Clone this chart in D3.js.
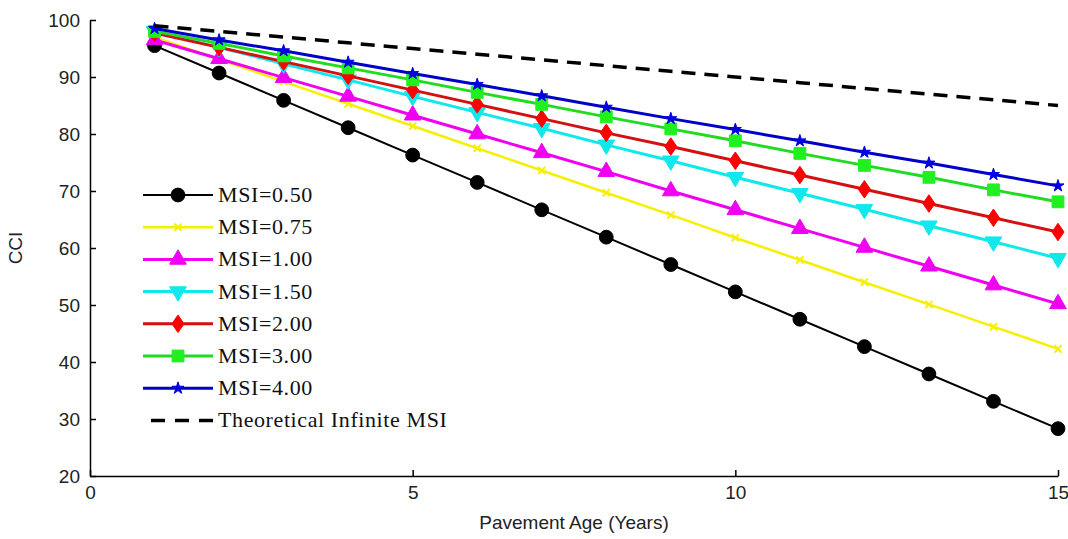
<!DOCTYPE html>
<html>
<head>
<meta charset="utf-8">
<script src="https://cdn.jsdelivr.net/npm/d3@7"></script>
<style>
    body { margin: 0; background: #fff; }
    svg { display: block; }
</style>
</head>
<body>
<div id="chart"></div>
<script>
const years = [1, 2, 3, 4, 5, 6, 7, 8, 9, 10, 11, 12, 13, 14, 15];

const msi050 = [95.5, 90.7, 85.9, 81.1, 76.3, 71.5, 66.7, 61.9, 57.1, 52.3, 47.5, 42.7, 37.9, 33.1, 28.3];
const msi075 = [97.0, 93.1, 89.2, 85.3, 81.4, 77.5, 73.6, 69.7, 65.8, 61.8, 57.9, 54.0, 50.1, 46.2, 42.3];
const msi100 = [96.5, 93.2, 89.9, 86.6, 83.3, 80.0, 76.7, 73.4, 70.0, 66.7, 63.4, 60.1, 56.8, 53.5, 50.2];
const msi150 = [98.0, 95.2, 92.3, 89.5, 86.6, 83.8, 81.0, 78.1, 75.3, 72.4, 69.6, 66.8, 63.9, 61.1, 58.2];
const msi200 = [97.7, 95.2, 92.7, 90.2, 87.7, 85.2, 82.7, 80.2, 77.8, 75.3, 72.8, 70.3, 67.8, 65.3, 62.8];
const msi300 = [98.0, 95.9, 93.7, 91.6, 89.5, 87.3, 85.2, 83.0, 80.9, 78.8, 76.6, 74.5, 72.4, 70.2, 68.1];
const msi400 = [98.5, 96.5, 94.6, 92.6, 90.6, 88.7, 86.7, 84.7, 82.7, 80.8, 78.8, 76.8, 74.9, 72.9, 70.9];
const msiInf = [99, 98, 97, 96, 95, 94, 93, 92, 91, 90, 89, 88, 87, 86, 85];

const seriesNames = ["MSI=0.50", "MSI=0.75", "MSI=1.00", "MSI=1.50", "MSI=2.00", "MSI=3.00", "MSI=4.00", "Theoretical Infinite MSI"];
const xTicks = [0, 5, 10, 15];
const yTicks = [20, 30, 40, 50, 60, 70, 80, 90, 100];

// how each series looks
const styles = [
    { line: "#000", fill: "#000", marker: "circle", size: 150, width: 2 },
    { line: "#f5f000", fill: "#f5f000", marker: "x", size: 35, width: 2.5 },
    { line: "#f000f0", fill: "#f000f0", marker: "triUp", size: 120, width: 3 },
    { line: "#10e8ec", fill: "#10e8ec", marker: "triDown", size: 120, width: 3 },
    { line: "#d41010", fill: "#ff0000", marker: "diamond", size: 120, width: 3 },
    { line: "#20dc20", fill: "#20f020", marker: "square", size: 140, width: 3 },
    { line: "#0000c8", fill: "#0000e0", marker: "star", size: 45, width: 3 },
    { line: "#000", fill: "none", marker: null, size: 0, width: 3.5, dash: "14,9" }
];

const allValues = [msi050, msi075, msi100, msi150, msi200, msi300, msi400, msiInf];

const width = 1068;
const height = 539;
const margin = { top: 20, right: 10, bottom: 63, left: 90 };

const svg = d3.select("#chart")
    .append("svg")
    .attr("width", width)
    .attr("height", height);

const xScale = d3.scaleLinear().domain([0, 15]).range([margin.left, width - margin.right]);
const yScale = d3.scaleLinear().domain([20, 100]).range([height - margin.bottom, margin.top]);

function markerPath(type, size) {
    if (type === "circle") return d3.symbol(d3.symbolCircle, size)();
    if (type === "square") return d3.symbol(d3.symbolSquare, size)();
    if (type === "diamond") {
        const w = Math.sqrt(size) * 0.55, h = Math.sqrt(size) * 0.8;
        return `M0,${-h}L${w},0L0,${h}L${-w},0Z`;
    }
    if (type === "triUp") return d3.symbol(d3.symbolTriangle, size)();
    if (type === "triDown") return d3.symbol(d3.symbolTriangle, size)();
    if (type === "star") return d3.symbol(d3.symbolStar, size)();
    if (type === "x") return d3.symbol(d3.symbolTimes, size)();
    return "";
}

// axes
const xAxis = d3.axisBottom(xScale).tickValues(xTicks).tickSizeInner(-6).tickSizeOuter(0).tickPadding(10);
const yAxis = d3.axisLeft(yScale).tickValues(yTicks).tickSizeInner(-6).tickSizeOuter(0).tickPadding(10);

const gx = svg.append("g")
    .attr("transform", `translate(0,${height - margin.bottom})`)
    .call(xAxis);
const gy = svg.append("g")
    .attr("transform", `translate(${margin.left},0)`)
    .call(yAxis);

[gx, gy].forEach(g => {
    g.select(".domain").attr("stroke", "#000").attr("stroke-width", 1.5);
    g.selectAll(".tick line").attr("stroke", "#000").attr("stroke-width", 1.5);
    g.selectAll(".tick text")
        .attr("fill", "#222")
        .style("font-family", "'Liberation Sans', Arial, sans-serif")
        .style("font-size", "19px");
});

// lines
const line = d3.line()
    .x((d, i) => xScale(years[i]))
    .y(d => yScale(d));

allValues.forEach((values, k) => {
    const s = styles[k];
    svg.append("path")
        .datum(values)
        .attr("fill", "none")
        .attr("stroke", s.line)
        .attr("stroke-width", s.width)
        .attr("stroke-dasharray", s.dash || null)
        .attr("d", line);

    if (s.marker) {
        svg.append("g")
            .selectAll("path")
            .data(values)
            .enter().append("path")
            .attr("transform", (d, i) => `translate(${xScale(years[i])},${yScale(d)})` + (s.marker === "triDown" ? " rotate(180)" : ""))
            .attr("d", markerPath(s.marker, s.size))
            .attr("fill", s.marker === "x" ? "none" : s.fill)
            .attr("stroke", s.fill)
            .attr("stroke-width", s.marker === "x" ? 2 : 1);
    }
});

// legend
const legend = svg.append("g").attr("transform", "translate(143,195)");
seriesNames.forEach((name, k) => {
    const s = styles[k];
    const row = legend.append("g").attr("transform", `translate(0,${k * 32.2})`);
    row.append("line")
        .attr("x1", s.dash ? 8 : 0).attr("x2", 70)
        .attr("y1", 0).attr("y2", 0)
        .attr("stroke", s.line)
        .attr("stroke-width", s.width)
        .attr("stroke-dasharray", s.dash ? "14,10" : null);
    if (s.marker) {
        row.append("path")
            .attr("transform", "translate(35,0)" + (s.marker === "triDown" ? " rotate(180)" : ""))
            .attr("d", markerPath(s.marker, s.size))
            .attr("fill", s.marker === "x" ? "none" : s.fill)
            .attr("stroke", s.fill)
            .attr("stroke-width", s.marker === "x" ? 2 : 1);
    }
    row.append("text")
        .attr("x", 75)
        .attr("y", 7)
        .attr("fill", "#111")
        .style("font-family", "'Liberation Serif', 'Times New Roman', serif")
        .style("font-size", "22px")
        .style("letter-spacing", "0.6px")
        .text(name);
});

// axis titles
svg.append("text")
    .attr("x", (margin.left + width - margin.right) / 2)
    .attr("y", 529)
    .attr("text-anchor", "middle")
    .attr("fill", "#222")
    .style("font-family", "'Liberation Sans', Arial, sans-serif")
    .style("font-size", "19px")
    .text("Pavement Age (Years)");

svg.append("text")
    .attr("transform", `translate(22,${(margin.top + height - margin.bottom) / 2}) rotate(-90)`)
    .attr("text-anchor", "middle")
    .attr("fill", "#222")
    .style("font-family", "'Liberation Sans', Arial, sans-serif")
    .style("font-size", "19px")
    .text("CCI");
</script>
</body>
</html>
